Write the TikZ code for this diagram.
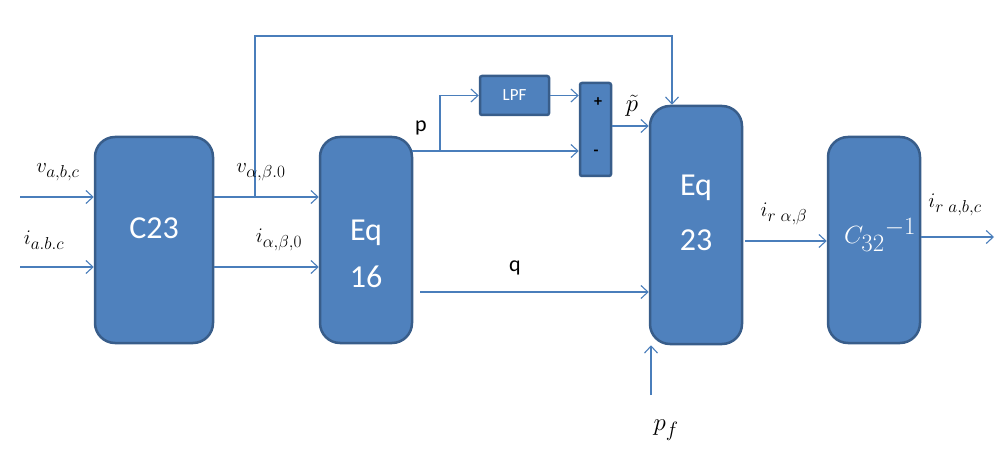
\documentclass[tikz,border=0pt]{standalone}
\usepackage{amsmath,amssymb}
\usepackage{fontspec}
\setmainfont{Carlito}
\usepackage{xcolor}
\usepackage{tikz}
\usetikzlibrary{arrows.meta}

\definecolor{boxfill}{RGB}{79,129,189}
\definecolor{boxdraw}{RGB}{56,93,138}
\definecolor{wire}{RGB}{74,126,187}

\DeclareMathSizes{22}{22}{19}{15}
\DeclareMathSizes{24}{24}{20}{16}
\DeclareMathSizes{30}{30}{25}{20}

\begin{document}
\begin{tikzpicture}[x=1pt, y=-1pt,
  box/.style={draw=boxdraw, fill=boxfill, line width=2.5pt, rounded corners=20pt,
              minimum width=92pt, minimum height=206pt, inner sep=0pt},
  smallbox/.style={draw=boxdraw, fill=boxfill, line width=2.5pt, rounded corners=2pt,
              inner sep=0pt},
  boxtxt/.style={text=white, align=center, font=\fontsize{32}{47}\selectfont},
  lbl/.style={font=\fontsize{22}{26}\selectfont, inner sep=0pt},
  arr/.style={-{Straight Barb[length=7pt,width=13pt]}, wire, line width=1.1pt}
]
  \useasboundingbox (0,0) rectangle (995,449);

  % Nodes
  \node[box, minimum width=118pt] (c23)   at (154,240) {};
  \node[box]                      (eq16)  at (366,240) {};
  \node[smallbox, minimum width=69pt, minimum height=39pt] (lpf) at (514.5,95.5) {};
  \node[smallbox, minimum width=31pt, minimum height=93pt] (sum) at (595.5,129.5) {};
  \node[box, minimum height=238pt] (eq23)  at (696,225) {};
  \node[box]                      (cinv)  at (874,240) {};

  \node[boxtxt] (c23txt)  at (154,228) {C23};
  \node[boxtxt] (eq16txt) at (366,254) {Eq\\16};
  \node[boxtxt, font=\fontsize{32}{55}\selectfont] (eq23txt) at (696,213) {Eq\\23};
  \node[text=white, font=\fontsize{30}{34}\selectfont, inner sep=0pt] (cinvtxt) at (880,235)
       {$C_{32}{}^{-1}$};
  \node[text=white, font=\fontsize{17}{19}\selectfont] (lpftxt) at (lpf) {LPF};
  \node[font=\fontsize{16}{18}\selectfont\bfseries] (plus)  at (598,102) {+};
  \node[font=\fontsize{16}{18}\selectfont\bfseries] (minus) at (596,153) {-};

  % Coordinates
  \coordinate (vin)  at (20,197);
  \coordinate (iin)  at (20,267);
  \coordinate (tap)  at (255,197);
  \coordinate (fbr)  at (672,36);
  \coordinate (pout) at (412,151);
  \coordinate (pbr)  at (440,151);
  \coordinate (qs)   at (420,292);
  \coordinate (ir)   at (745,241);
  \coordinate (iout) at (995,237);
  \coordinate (pfin) at (651,395);

  % Paths
  \draw[arr] (vin) -- (vin -| c23.west);
  \draw[arr] (iin) -- (iin -| c23.west);
  \draw[arr] (vin -| c23.east) -- (vin -| eq16.west);
  \draw[arr] (iin -| c23.east) -- (iin -| eq16.west);
  \draw[arr] (tap) |- (fbr) -- (fbr |- eq23.north);
  \draw[arr] (pout) -- (pout -| sum.west);
  \draw[arr] (pbr) |- (lpf.west);
  \draw[arr] (lpf.east) -- (lpf.east -| sum.west);
  \draw[arr] ([yshift=3.5]sum.east) -- ([yshift=3.5]sum.east -| eq23.west);
  \draw[arr] (qs) -- (qs -| eq23.west);
  \draw[arr] (ir) -- (ir -| cinv.west);
  \draw[arr] (iout -| cinv.east) -- ([xshift=-1]iout);
  \draw[arr] (pfin) -- (pfin |- eq23.south);

  % Labels
  \node[lbl] (vabc)  at (58,172)  {$v_{a,b,c}$};
  \node[lbl] (iabc)  at (44,240)  {$i_{a.b.c}$};
  \node[lbl] (valb)  at (261,172) {$v_{\alpha,\beta.0}$};
  \node[lbl] (ialb)  at (279,240) {$i_{\alpha,\beta,0}$};
  \node[lbl] (plbl)  at (421,128) {p};
  \node[lbl] (qlbl)  at (515,268) {q};
  \node[lbl, font=\fontsize{24}{28}\selectfont] (ptil) at (632,106) {$\tilde{p}$};
  \node[lbl] (iralb) at (784,214) {$i_{r\ \alpha,\beta}$};
  \node[lbl] (irabc) at (955,205) {$i_{r\ a,b,c}$};
  \node[lbl, font=\fontsize{24}{28}\selectfont] (pflbl) at (666,430) {$p_f$};
\end{tikzpicture}
\end{document}
